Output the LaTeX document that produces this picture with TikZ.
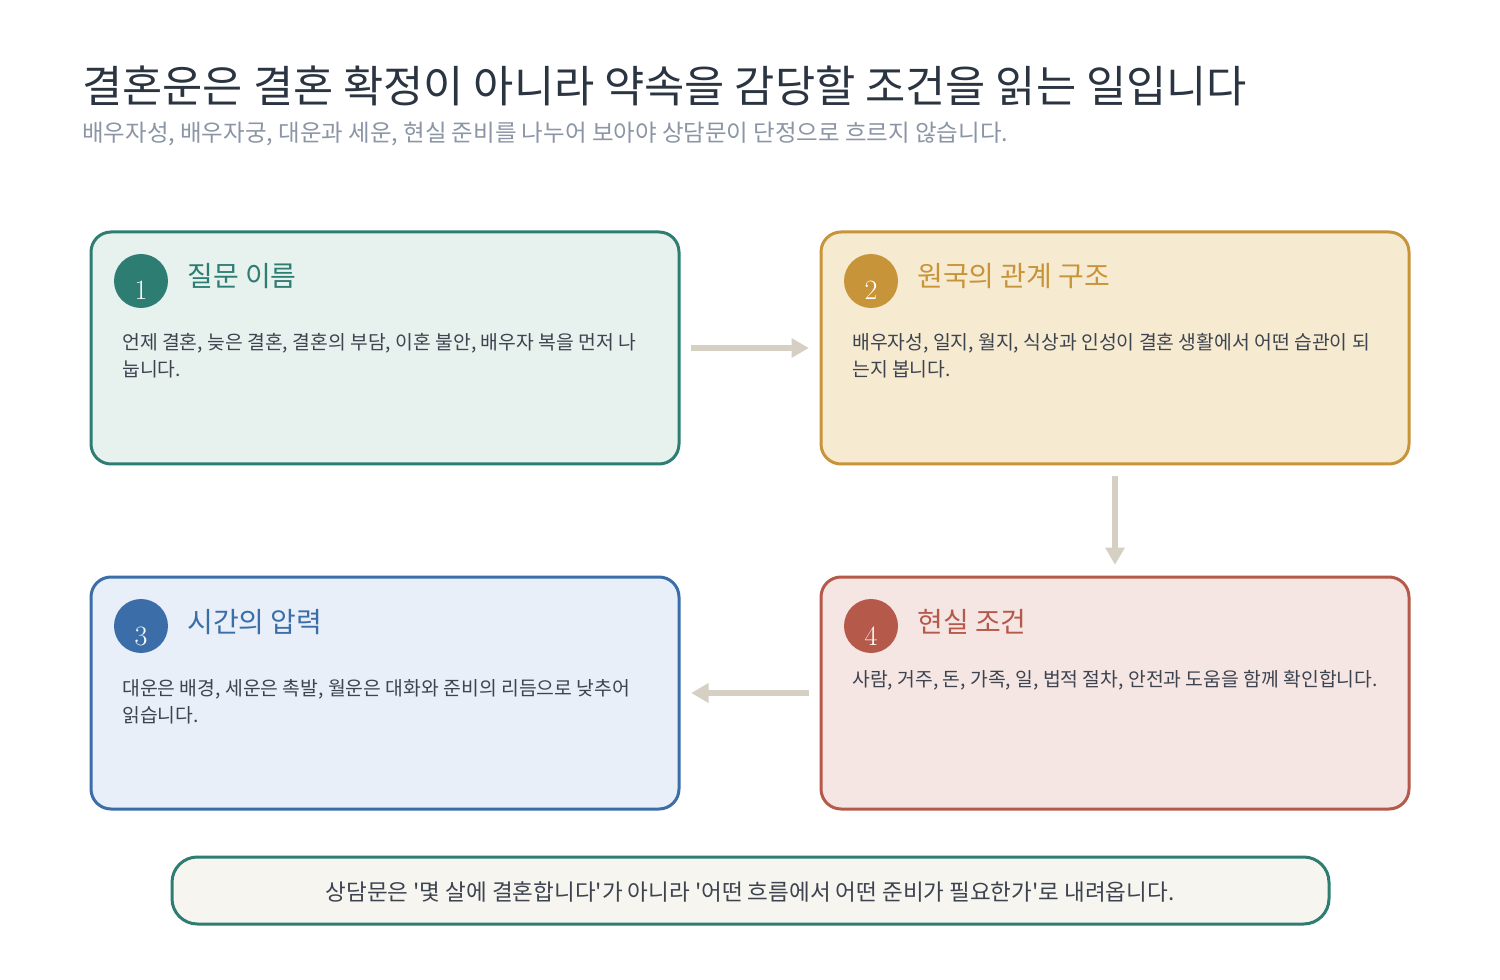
\documentclass[tikz,border=0pt]{standalone}
\usepackage{fontspec}
\newfontfamily\krfont{Noto Sans CJK KR}
\usetikzlibrary{arrows.meta,positioning}
\definecolor{titleink}{HTML}{2B3441}
\definecolor{subink}{HTML}{8B95A5}
\definecolor{bodyink}{HTML}{3D4450}
\definecolor{tealline}{HTML}{2E7D73}
\definecolor{tealfill}{HTML}{E7F1ED}
\definecolor{goldline}{HTML}{C8943A}
\definecolor{goldfill}{HTML}{F6EAD0}
\definecolor{blueline}{HTML}{3B6EA8}
\definecolor{bluefill}{HTML}{E8EFF8}
\definecolor{redline}{HTML}{B55A4A}
\definecolor{redfill}{HTML}{F5E6E3}
\definecolor{notefill}{HTML}{F6F5EF}
\definecolor{flowgray}{HTML}{D6D0C4}

\begin{document}
\begin{tikzpicture}[x=0.75pt, y=-0.75pt,
  card/.style={draw, rounded corners=15pt, line width=2.25pt, minimum width=441pt, minimum height=174pt, inner sep=0pt},
  badge/.style={circle, minimum size=40.5pt, inner sep=0pt},
  badgenum/.style={anchor=base, text=white, inner sep=0pt, font=\fontsize{21}{24}\selectfont},
  heading/.style={anchor=base west, inner sep=0pt, font=\krfont\fontsize{21}{24}\selectfont},
  bodytxt/.style={anchor=base west, align=left, inner sep=0pt, text=bodyink, font=\krfont\fontsize{14.5}{20.25}\selectfont},
  flow/.style={draw=flowgray, line width=4.5pt, -{Triangle[length=13pt,width=14pt]}, shorten >=8pt, shorten <=8pt}]
\useasboundingbox[fill=white] (0,0) rectangle (1500,980);

% title
\node[anchor=base west, inner sep=0pt, text=titleink, font=\krfont\fontsize{32.8}{36}\selectfont] (title) at (82,103) {결혼운은 결혼 확정이 아니라 약속을 감당할 조건을 읽는 일입니다};
\node[anchor=base west, inner sep=0pt, text=subink, font=\krfont\fontsize{17.6}{20}\selectfont] (subtitle) at (82,142) {배우자성, 배우자궁, 대운과 세운, 현실 준비를 나누어 보아야 상담문이 단정으로 흐르지 않습니다.};

% box 1
\node[card, draw=tealline, fill=tealfill] (box1) at (385,348) {};
\node[badge, fill=tealline] (b1) at (141,281) {};
\node[badgenum] (n1) at (141,300) {1};
\node[heading, text=tealline] (h1) at (187,287) {질문 이름};
\node[bodytxt] (t1) at (122,377) {언제 결혼, 늦은 결혼, 결혼의 부담, 이혼 불안, 배우자 복을 먼저 나\\눕니다.};

% box 2
\node[card, draw=goldline, fill=goldfill] (box2) at (1115,348) {};
\node[badge, fill=goldline] (b2) at (871,281) {};
\node[badgenum] (n2) at (871,300) {2};
\node[heading, text=goldline] (h2) at (917,287) {원국의 관계 구조};
\node[bodytxt] (t2) at (852,377) {배우자성, 일지, 월지, 식상과 인성이 결혼 생활에서 어떤 습관이 되\\는지 봅니다.};

% box 3
\node[card, draw=blueline, fill=bluefill] (box3) at (385,693) {};
\node[badge, fill=blueline] (b3) at (141,626) {};
\node[badgenum] (n3) at (141,645) {3};
\node[heading, text=blueline] (h3) at (187,632) {시간의 압력};
\node[bodytxt] (t3) at (122,722) {대운은 배경, 세운은 촉발, 월운은 대화와 준비의 리듬으로 낮추어\\읽습니다.};

% box 4
\node[card, draw=redline, fill=redfill] (box4) at (1115,693) {};
\node[badge, fill=redline] (b4) at (871,626) {};
\node[badgenum] (n4) at (871,645) {4};
\node[heading, text=redline] (h4) at (917,632) {현실 조건};
\node[bodytxt] (t4) at (852,686) {사람, 거주, 돈, 가족, 일, 법적 절차, 안전과 도움을 함께 확인합니다.};

% flow
\draw[flow] (box1.east) -- (box2.west);
\draw[flow] (box2.south) -- (box4.north);
\draw[flow] (box4.west) -- (box3.east);

% note
\node[draw=tealline, fill=notefill, rounded corners=19pt, line width=2.25pt, minimum width=867.75pt, minimum height=50.25pt, inner sep=0pt] (note) at (750.5,890.5) {};
\node[anchor=base, inner sep=0pt, text=bodyink, font=\krfont\fontsize{16.9}{20}\selectfont] (notetxt) at (750,900) {상담문은 '몇 살에 결혼합니다'가 아니라 '어떤 흐름에서 어떤 준비가 필요한가'로 내려옵니다.};
\end{tikzpicture}
\end{document}
